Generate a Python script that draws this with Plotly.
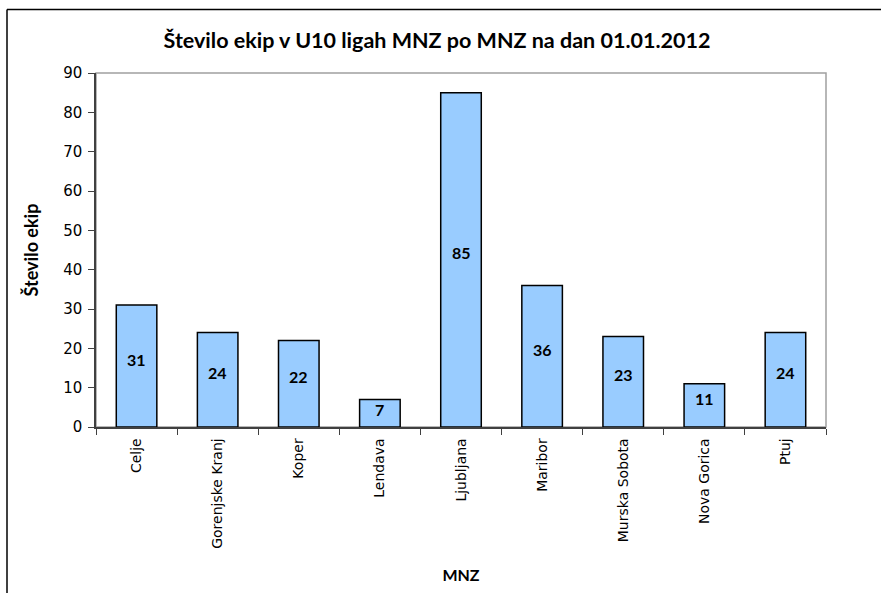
import plotly.graph_objects as go

categories = ["Celje", "Gorenjske Kranj", "Koper", "Lendava", "Ljubljana",
              "Maribor", "Murska Sobota", "Nova Gorica", "Ptuj"]
values = [31, 24, 22, 7, 85, 36, 23, 11, 24]
y_ticks = [0, 10, 20, 30, 40, 50, 60, 70, 80, 90]

fig = go.Figure(go.Bar(
    x=categories, y=values,
    width=0.5,
    marker=dict(color="#99CCFF", line=dict(color="black", width=1.5)),
    hoverinfo="x+y",
))

# value labels placed at the middle of each bar (slightly raised, as in the original)
for c, v in zip(categories, values):
    fig.add_annotation(x=c, y=v / 2, text=f"<b>{v}</b>", showarrow=False,
                       yshift=min(7, v * 0.6),
                       font=dict(family="Lato", size=16, color="black"))

L, R, T, B = 96, 826, 73, 427
W, H = 881, 593
pw, ph = R - L, B - T

fig.update_layout(
    width=W, height=H,
    margin=dict(l=L, r=W - R, t=T, b=H - B),
    paper_bgcolor="white", plot_bgcolor="white",
    showlegend=False,
    title=dict(text="<b>Število ekip v U10 ligah MNZ po MNZ na dan 01.01.2012</b>",
               x=(437 - L) / pw, xref="paper", xanchor="center",
               y=1 - 40 / H, yanchor="middle",
               font=dict(family="Lato", size=21.5, color="black")),
    xaxis=dict(
        title=dict(text="<b>MNZ</b>", font=dict(family="Lato", size=16, color="black"),
                   standoff=22),
        tickangle=-90,
        tickfont=dict(family="DejaVu Sans", size=14, color="black"),
        ticklabelstandoff=4,
        showline=True, linecolor="#404040", linewidth=1.5,
        ticks="outside", tickson="boundaries", ticklen=6, tickcolor="#404040",
        showgrid=False,
    ),
    yaxis=dict(
        title=dict(text="<b>Število ekip</b>", font=dict(family="Lato", size=18, color="black"),
                   standoff=20),
        range=[0, 90], tickvals=y_ticks,
        tickfont=dict(family="DejaVu Sans", size=15, color="black"),
        ticklabelstandoff=3,
        showline=True, linecolor="#404040", linewidth=1.5,
        ticks="outside", ticklen=6, tickcolor="#404040",
        showgrid=False, zeroline=False,
    ),
    shapes=[
        dict(type="rect", xref="paper", yref="paper", x0=0, x1=1, y0=0, y1=1,
             line=dict(color="#A0A0A0", width=1.5), layer="below"),
        dict(type="line", xref="paper", yref="paper",
             x0=(7 - L) / pw, x1=(W + 20 - L) / pw,
             y0=(B - 9.5) / ph, y1=(B - 9.5) / ph,
             line=dict(color="black", width=1.5)),
        dict(type="line", xref="paper", yref="paper",
             x0=(7 - L) / pw, x1=(7 - L) / pw,
             y0=(B - 9.5) / ph, y1=(B - H - 20) / ph,
             line=dict(color="black", width=1.5)),
    ],
)

fig.write_html("out.html", config={"displayModeBar": False},
               post_script="document.body.style.margin='0';")
